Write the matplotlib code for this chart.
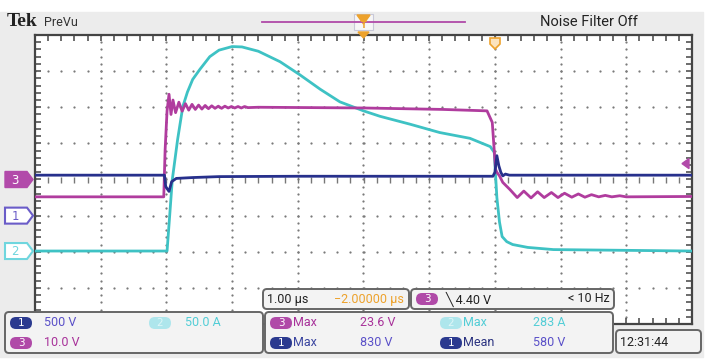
import numpy as np
import matplotlib.pyplot as plt
from matplotlib.patches import FancyBboxPatch, Polygon, Rectangle

W, H = 707, 364
NARROW = ['Roboto', 'DejaVu Sans']

# time in microseconds, 0 = trigger (ch3 falling edge), 1 us/div
T_MIN, T_MAX = -7.0, 3.0

# channel scale (units/div) and position (div)
CH1_SCALE, CH1_POS = 500.0, -1.0
CH2_SCALE, CH2_POS = 50.0, -1.98
CH3_SCALE, CH3_POS = 10.0, 0.0
TRIG_LEVEL = 4.40

# ch1: collector-emitter voltage (V)
ch1_t = [-7.0, -5.03, -5.01, -4.96, -4.92, -4.85, -4.6, -4.2, -3.0, -0.03,
         0.0, 0.03, 0.06, 0.09, 0.12, 0.16, 0.22, 3.0]
ch1_v = [560, 560, 400, 335, 470, 515, 527, 540, 545, 545,
         600, 830, 690, 600, 550, 575, 560, 560]

# ch2: collector current (A)
ch2_t = [-7.0, -4.99, -4.95, -4.91, -4.83, -4.75, -4.68, -4.60, -4.49, -4.34,
         -4.2, -4.0, -3.85, -3.6, -3.27, -2.97, -2.66, -2.36, -2.0, -1.75,
         -1.29, -0.84, -0.38, -0.07, -0.01, 0.03, 0.07, 0.11, 0.18, 0.27,
         0.5, 0.89, 3.0]
ch2_a = [0, 0, 49, 99, 154, 200, 220, 237.5, 251.5, 269,
         278, 283, 282.5, 276.5, 262, 244, 224, 206.5, 194, 186.5,
         175.5, 164, 156, 144.5, 136.5, 74, 40, 20, 13, 9,
         5, 2, 0]

# ch3: gate voltage (V)
ch3_t = [-7.0, -5.04, -5.02, -4.99, -4.96, -4.93, -4.90, -4.86, -4.81, -4.76,
         -4.71, -4.66, -4.61, -4.56, -4.51, -4.46, -4.41, -4.36, -4.31, -4.26,
         -4.21, -4.16, -4.11, -4.06, -4.01, -3.96, -3.91, -3.86, -3.81, -3.76,
         -3.6, -2.0, -0.8, -0.12, -0.04, 0.01, 0.03, 0.07, 0.12, 0.23,
         0.34, 0.44, 0.55, 0.65, 0.75, 0.86, 0.96, 1.06, 1.17, 1.27,
         1.37, 1.47, 1.58, 1.68, 1.78, 1.90, 2.00, 3.0]
ch3_v = [-4.8, -4.8, 8.0, 19.0, 23.6, 18.0, 22.0, 18.5, 21.4, 18.9,
         21.0, 19.2, 20.8, 19.4, 20.6, 19.5, 20.5, 19.6, 20.4, 19.7,
         20.3, 19.7, 20.3, 19.8, 20.2, 19.8, 20.2, 19.8, 20.2, 19.9,
         20.0, 19.8, 19.4, 19.0, 15.8, 2.8, 2.0, 1.0, -0.8, -2.8,
         -5.0, -3.2, -5.1, -3.4, -5.0, -3.6, -5.0, -3.8, -4.9, -4.0,
         -4.9, -4.2, -4.8, -4.4, -4.8, -4.5, -4.8, -4.7]

C1 = '#27308c'
C2 = '#3ec2c4'
C3 = '#b03c9e'
C1_TXT = '#5a50c8'
C2_TXT = '#52cdd6'
C3_TXT = '#a8329a'
ORANGE = '#eda22c'

PLOT_L, PLOT_R, PLOT_T, PLOT_B = 35, 692, 35, 324


def div_to_px(d):
    return PLOT_T + (4 - d) / 8 * (PLOT_B - PLOT_T)


fig = plt.figure(figsize=(W / 100, H / 100), dpi=100, facecolor='white')

# background panel
bg = fig.add_axes([0, 0, 1, 1], zorder=-1)
bg.set_xlim(0, W)
bg.set_ylim(H, 0)
bg.axis('off')
bg.add_patch(Rectangle((0, 12), 703, 345, color='#ececec'))

# main scope graticule
ax = fig.add_axes([PLOT_L / W, 1 - PLOT_B / H, (PLOT_R - PLOT_L) / W,
                   (PLOT_B - PLOT_T) / H], zorder=1)
ax.set_facecolor('white')
ax.set_xlim(T_MIN, T_MAX)
ax.set_ylim(-4, 4)
ax.set_xticks(np.arange(T_MIN, T_MAX + 0.01, 0.2))
ax.set_yticks(np.arange(-4, 4.01, 0.2))
ax.tick_params(direction='in', length=4, width=1.1, color='#444', top=True, right=True,
               labelbottom=False, labelleft=False)
for s in ax.spines.values():
    s.set_color('#444')
    s.set_linewidth(1.6)

dots_y = np.arange(-4, 4.01, 0.2)
dots_x = np.arange(T_MIN, T_MAX + 0.01, 0.2)
for k in range(1, 10):
    gx = T_MIN + k
    ax.scatter(np.full_like(dots_y, gx), dots_y, s=2.6, color='#7a7a7a', lw=0, zorder=1)
for gy in range(-3, 4):
    if gy == 0:
        ax.scatter(dots_x, np.zeros_like(dots_x), marker='|', s=18, color='#777', lw=1, zorder=1)
    else:
        ax.scatter(dots_x, np.full_like(dots_x, gy), s=2.6, color='#7a7a7a', lw=0, zorder=1)

ax.plot(ch2_t, np.array(ch2_a) / CH2_SCALE + CH2_POS, color=C2, lw=2.0, zorder=3)
ax.plot(ch3_t, np.array(ch3_v) / CH3_SCALE + CH3_POS, color=C3, lw=2.0, zorder=4)
ax.plot(ch1_t, np.array(ch1_v) / CH1_SCALE + CH1_POS, color=C1, lw=2.0, zorder=5)

# overlay in pixel coordinates for scope annotations
ov = fig.add_axes([0, 0, 1, 1], zorder=2)
ov.set_xlim(0, W)
ov.set_ylim(H, 0)
ov.axis('off')
ov.patch.set_visible(False)

ov.text(7, 22, 'Tek', fontsize=14, fontweight='bold', family='Liberation Serif',
        color='#222', va='center')
ov.text(44, 23, 'PreVu', fontsize=9, family=NARROW, color='#333', va='center')
ov.text(589, 22, 'Noise Filter Off', fontsize=10.5, family=NARROW, color='#222',
        va='center', ha='center')

# record view bar and trigger markers
ov.plot([262, 465], [21.7, 21.7], color='#b04aa8', lw=1.3)
ov.add_patch(Rectangle((354, 14), 19, 16, fc='#f6f6f6', ec='#c8c8d8', lw=0.8))
ov.add_patch(Polygon([[357, 15], [370, 15], [363.5, 24]], closed=True, color=ORANGE))
ov.text(363.5, 25, 'T', fontsize=6, color=ORANGE, ha='center', va='center', fontweight='bold')
ov.add_patch(Polygon([[358, 32], [369, 32], [363.5, 38]], closed=True, color=ORANGE))
ov.add_patch(Polygon([[490, 38], [500, 38], [500, 44], [495, 49], [490, 44]], closed=True,
                     fc='#fbe3bd', ec=ORANGE, lw=1.2))


# channel position markers
def ch_marker(y, label, color, filled):
    pts = [[5, y - 8], [27, y - 8], [33, y], [27, y + 8], [5, y + 8]]
    if filled:
        ov.add_patch(Polygon(pts, closed=True, fc=color, ec=color, lw=1))
        ov.text(15, y + 0.5, label, color='white', fontsize=8.5, ha='center', va='center')
    else:
        ov.add_patch(Polygon(pts, closed=True, fc='white', ec=color, lw=1.5))
        ov.text(15, y + 0.5, label, color=color, fontsize=8.5, ha='center', va='center')


ch_marker(div_to_px(CH3_POS), '3', '#b24aaa', True)
ch_marker(div_to_px(CH1_POS), '1', '#6a5cc8', False)
ch_marker(div_to_px(CH2_POS), '2', '#6fd6de', False)

# trigger level arrow
ty = div_to_px(TRIG_LEVEL / CH3_SCALE + CH3_POS)
ov.add_patch(Polygon([[682, ty], [689, ty - 5], [689, ty + 5]], closed=True, color='#b24aaa'))


def box(x, y, w, h):
    ov.add_patch(FancyBboxPatch((x, y), w, h, boxstyle='round,pad=0,rounding_size=4',
                                fc='#f3f3f3', ec='#666', lw=1.4))


def pill(cx, cy, label, color, txt='white'):
    ov.add_patch(FancyBboxPatch((cx - 11, cy - 6), 22, 12,
                                boxstyle='round,pad=0,rounding_size=6',
                                fc=color, ec='none'))
    ov.text(cx, cy + 0.5, label, color=txt, fontsize=7.5, ha='center', va='center')


def label(x, y, s, color, ha='left'):
    ov.text(x, y, s, color=color, fontsize=9, family=NARROW, ha=ha, va='center')


box(263, 289, 146, 20)
label(267, 299, '1.00 µs', '#222')
label(334, 299, '\u22122.00000 µs', ORANGE)

box(411, 289, 203, 20)
pill(427, 299, '3', '#b04aa8')
label(446, 299, '\u2572 4.40 V', '#222')
label(610, 299, '< 10 Hz', '#222', ha='right')

box(5, 312, 258, 41)
pill(21, 323, '1', '#2b3a8f')
label(44, 323, '500 V', C1_TXT)
pill(160, 323, '2', '#aee6ec', txt='#dff6f8')
label(185, 323, '50.0 A', C2_TXT)
pill(21, 343, '3', '#b04aa8')
label(44, 343, '10.0 V', C3_TXT)

box(265, 312, 348, 41)
pill(281, 323, '3', '#b04aa8')
label(293, 323, 'Max', C3_TXT)
label(360, 323, '23.6 V', C3_TXT)
pill(451, 323, '2', '#aee6ec', txt='#dff6f8')
label(463, 323, 'Max', C2_TXT)
label(533, 323, '283 A', C2_TXT)
pill(281, 343, '1', '#2b3a8f')
label(293, 343, 'Max', '#3b46a0')
label(360, 343, '830 V', C1_TXT)
pill(451, 343, '1', '#2b3a8f')
label(463, 343, 'Mean', '#2b3380')
label(533, 343, '580 V', C1_TXT)

box(616, 330, 85, 23)
label(620, 342, '12:31:44', '#222')

fig.savefig('out.png', dpi=100, facecolor=fig.get_facecolor())
